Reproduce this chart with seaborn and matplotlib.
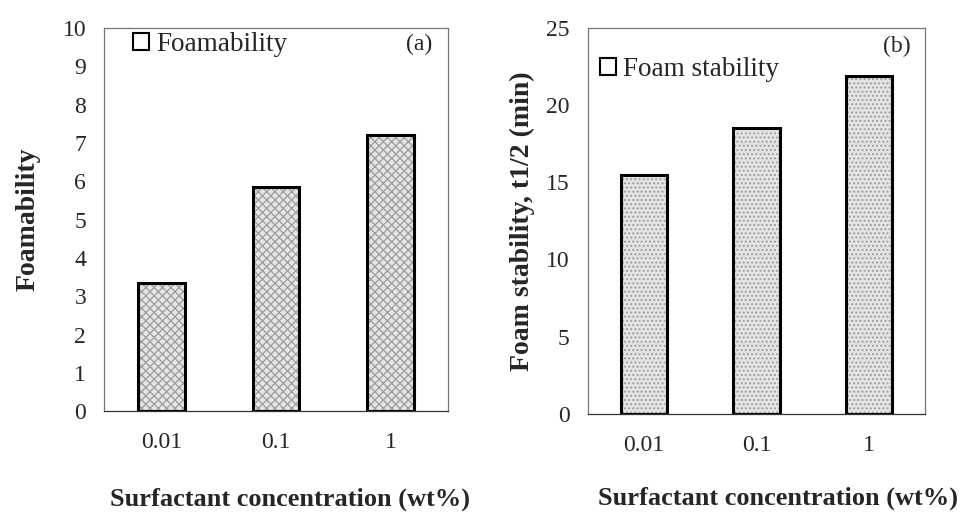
import matplotlib
matplotlib.use("Agg")
import matplotlib.pyplot as plt
import matplotlib.colors as mcolors
import seaborn as sns
import pandas as pd
from matplotlib.patches import Patch

categories = ["0.01", "0.1", "1"]
foamability = [3.34, 5.85, 7.2]
foam_stability = [15.5, 18.5, 21.9]

sns.set_style("white")
plt.rcParams["font.family"] = ["Liberation Serif", "DejaVu Serif"]
plt.rcParams["hatch.linewidth"] = 0.9

fig = plt.figure(figsize=(9.65, 5.16), dpi=100)
ax1 = fig.add_axes([0.108, 0.203, 0.356, 0.743])
ax2 = fig.add_axes([0.609, 0.198, 0.350, 0.748])

panels = [
    (ax1, foamability, "Foamability", "Foamability", "(a)", 10, list(range(0, 11)),
     "xxxx", (0.084, 0.956), (0.956, 0.956), 16, (0.54, -0.230)),
    (ax2, foam_stability, "Foam stability, t1/2 (min)", "Foam stability", "(b)", 25, [0, 5, 10, 15, 20, 25],
     "....", (0.036, 0.891), (0.955, 0.951), 8, (0.564, -0.220)),
]

for ax, vals, ylab, leglab, tag, ymax, yticks, hatch, legpos, tagpos, ypad, xlabpos in panels:
    df = pd.DataFrame({"conc": categories, "val": vals})
    sns.barplot(data=df, x="conc", y="val", ax=ax, color="#dddddd",
                edgecolor="black", linewidth=2.2, width=0.41, saturation=1)
    for p in ax.patches:
        p.set_hatch(hatch)
        p.set_facecolor("#e4e4e4")
        p._hatch_color = mcolors.to_rgba("#9c9c9c")
    ax.set_xlim(-0.5, 2.5)
    ax.set_ylim(0, ymax)
    ax.set_yticks(yticks)
    ax.set_yticklabels([str(t) for t in yticks], fontsize=17)
    ax.set_xticks([0, 1, 2])
    ax.set_xticklabels(categories, fontsize=17)
    ax.set_xticks([0.5, 1.5], minor=True)
    ax.tick_params(axis="x", which="major", length=0, pad=15)
    ax.tick_params(axis="x", which="minor", length=4, width=0.8, color="#888888", direction="out")
    ax.tick_params(axis="y", which="major", length=5, width=0.8, color="#888888", direction="out", pad=8)
    for s in ax.spines.values():
        s.set_visible(True)
        s.set_color("#777777")
        s.set_linewidth(0.9)
    ax.spines["bottom"].set_color("#333333")
    ax.set_xlabel("Surfactant concentration (wt%)", fontsize=19, fontweight="bold")
    ax.xaxis.set_label_coords(*xlabpos)
    ax.xaxis.label.set_va("center")
    ax.set_ylabel(ylab, fontsize=20, fontweight="bold", labelpad=ypad)
    handle = Patch(facecolor="white", edgecolor="black", linewidth=1.5)
    ax.legend(handles=[handle], labels=[leglab], loc="center left", frameon=False,
              fontsize=19.5, handlelength=0.6, handleheight=0.6, handletextpad=0.25,
              borderpad=0, borderaxespad=0, bbox_to_anchor=legpos)
    ax.text(tagpos[0], tagpos[1], tag, transform=ax.transAxes, ha="right", va="center", fontsize=17)

fig.savefig("out.png", dpi=100, facecolor="white")
